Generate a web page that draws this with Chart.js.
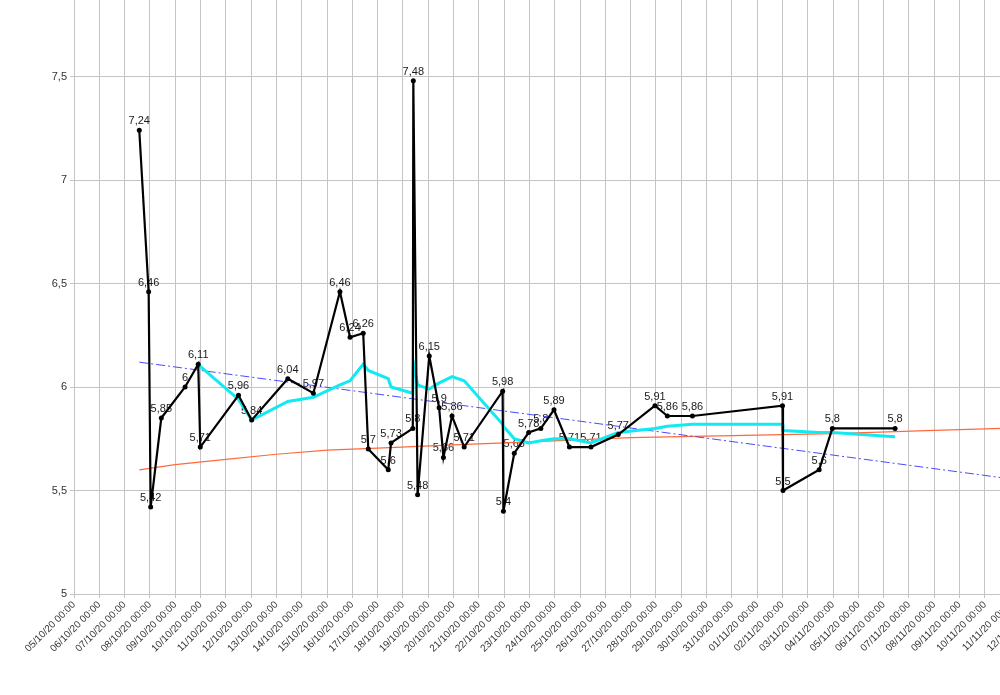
<!DOCTYPE html>
<html>
<head>
<meta charset="utf-8">
<script src="https://cdn.jsdelivr.net/npm/chart.js@4"></script>
<style>
  html, body { margin: 0; padding: 0; background: #fff; overflow: hidden; width: 1000px; height: 695px; }
  #wrap { position: absolute; left: 0; top: -39px; width: 1045px; height: 734px; }
</style>
</head>
<body>
<div id="wrap"><canvas id="chart" width="1045" height="734"></canvas></div>
<script>
// tick labels, one per day from 05/10/20
const dayLabels = [
  '05/10/20', '06/10/20', '07/10/20', '08/10/20', '09/10/20', '10/10/20', '11/10/20', '12/10/20',
  '13/10/20', '14/10/20', '15/10/20', '16/10/20', '17/10/20', '18/10/20', '19/10/20', '20/10/20',
  '21/10/20', '22/10/20', '23/10/20', '24/10/20', '25/10/20', '26/10/20', '27/10/20', '28/10/20',
  '29/10/20', '30/10/20', '31/10/20', '01/11/20', '02/11/20', '03/11/20', '04/11/20', '05/11/20',
  '06/11/20', '07/11/20', '08/11/20', '09/11/20', '10/11/20', '11/11/20', '12/11/20'
];

// measurement times, in days after 05/10/20 00:00
const days = [2.58, 2.95, 3.03, 3.45, 4.39, 4.91, 4.99, 6.50, 7.02, 8.45,
  9.46, 10.51, 10.91, 11.43, 11.63, 12.42, 12.53, 13.39, 13.41, 13.58,
  14.04, 14.43, 14.60, 14.94, 15.42, 16.94, 16.97, 17.40, 17.97, 18.45,
  18.97, 19.58, 20.43, 21.51, 22.96, 23.45, 24.44, 28.00, 28.02, 29.45,
  29.97, 32.45];

const values = [7.24, 6.46, 5.42, 5.85, 6, 6.11, 5.71, 5.96, 5.84, 6.04,
  5.97, 6.46, 6.24, 6.26, 5.7, 5.6, 5.73, 5.8, 7.48, 5.48,
  6.15, 5.9, 5.66, 5.86, 5.71, 5.98, 5.4, 5.68, 5.78, 5.8,
  5.89, 5.71, 5.71, 5.77, 5.91, 5.86, 5.86, 5.91, 5.5, 5.6,
  5.8, 5.8];

// moving average (cyan), same times as values
const movingAvg = [null, null, null, null, null, 6.11, 6.10, 5.94, 5.84, 5.93,
  5.95, 6.01, 6.03, 6.11, 6.08, 6.04, 6.00, 5.97, 6.12, 6.01,
  5.99, 6.02, 6.03, 6.05, 6.03, 5.82, 5.81, 5.75, 5.73, 5.74,
  5.75, 5.75, 5.73, 5.78, 5.80, 5.81, 5.82, 5.82, 5.79, 5.78,
  5.78, 5.76];

// linear trend (blue dash-dot)
const linDays = [2.58, 38];
const linVals = [6.12, 5.54];

// log trend (orange)
const logDays = [2.58, 4, 6, 8, 10, 12, 15, 18, 22, 26, 30, 34, 38];
const logVals = [5.60, 5.625, 5.65, 5.675, 5.695, 5.705, 5.72, 5.735, 5.755, 5.765, 5.775, 5.79, 5.805];

const pts = (xs, ys) => xs.map((x, i) => ({ x: x, y: ys[i] }));
const comma = v => String(v).replace('.', ',');

const valueLabels = {
    id: 'valueLabels',
    beforeDatasetsDraw(chart) {
        const ctx = chart.ctx;
        const meta = chart.getDatasetMeta(0);
        ctx.save();
        ctx.font = '11px "Liberation Sans", Arial, sans-serif';
        ctx.fillStyle = '#1a1a1a';
        ctx.textAlign = 'center';
        ctx.textBaseline = 'alphabetic';
        meta.data.forEach((p, i) => {
            ctx.fillText(comma(values[i]), p.x, p.y - 6);
        });
        ctx.restore();
    }
};

const gridColor = '#c4c4c4';

new Chart(document.getElementById('chart'), {
    type: 'line',
    data: {
        datasets: [
            {
                data: pts(days, values),
                borderColor: '#000',
                backgroundColor: '#000',
                borderWidth: 2.2,
                pointRadius: 2.5,
                pointBorderWidth: 0,
                tension: 0
            },
            {
                data: pts(days, movingAvg),
                borderColor: '#12eaf2',
                borderWidth: 3,
                pointRadius: 0,
                spanGaps: false,
                tension: 0
            },
            {
                data: pts(linDays, linVals),
                borderColor: '#4a4aff',
                borderWidth: 1,
                borderDash: [9, 3, 2, 3],
                pointRadius: 0,
                tension: 0
            },
            {
                data: pts(logDays, logVals),
                borderColor: '#ff6a3d',
                borderWidth: 1.2,
                pointRadius: 0,
                tension: 0
            }
        ]
    },
    options: {
        responsive: false,
        animation: false,
        layout: { padding: { left: 0, right: 0, top: 12, bottom: 0 } },
        plugins: {
            legend: { display: false },
            tooltip: { enabled: false }
        },
        scales: {
            x: {
                type: 'linear',
                min: 0,
                max: 38,
                afterFit: s => { s.height = 101; },
                grid: { color: gridColor, tickLength: 4 },
                border: { color: gridColor },
                ticks: {
                    stepSize: 1,
                    autoSkip: false,
                    minRotation: 45,
                    maxRotation: 45,
                    padding: 1,
                    color: '#333',
                    font: { family: '"Liberation Sans", Arial, sans-serif', size: 10 },
                    callback: v => dayLabels[v] + ' 00:00'
                }
            },
            y: {
                min: 5,
                max: 8,
                afterFit: s => { s.width = 74; },
                grid: { color: gridColor, tickLength: 4 },
                border: { color: gridColor },
                ticks: {
                    stepSize: 0.5,
                    padding: 3,
                    color: '#333',
                    font: { family: '"Liberation Sans", Arial, sans-serif', size: 11 },
                    callback: v => comma(v)
                }
            }
        }
    },
    plugins: [valueLabels]
});
</script>
</body>
</html>
